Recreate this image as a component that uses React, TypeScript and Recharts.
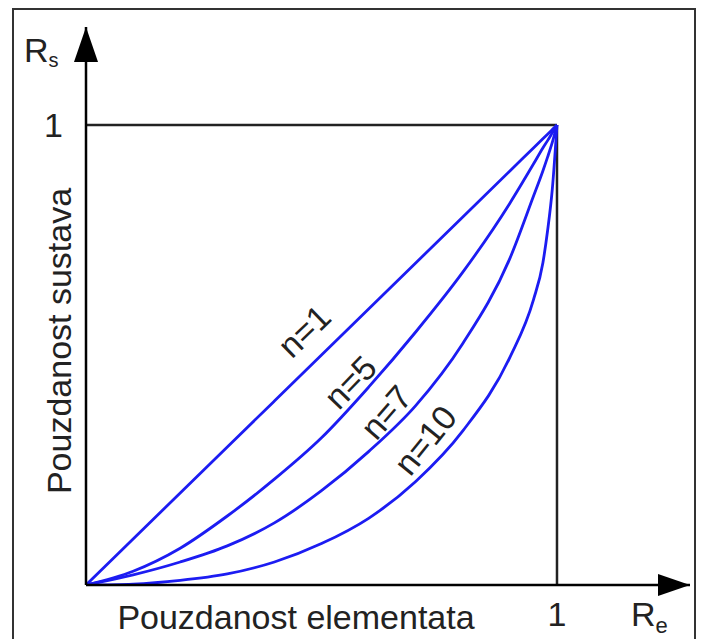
import {
  LineChart,
  Line,
  XAxis,
  YAxis,
  ReferenceLine,
  ReferenceDot,
  Label,
} from "recharts";

// element reliability (x) and system reliability for each n
const RE = [0, 0.1, 0.2, 0.3, 0.4, 0.5, 0.6, 0.7, 0.8, 0.9, 0.95, 0.97, 0.98, 0.99, 1];
const N1 = [0, 0.1, 0.2, 0.3, 0.4, 0.5, 0.6, 0.7, 0.8, 0.9, 0.95, 0.97, 0.98, 0.99, 1];
const N5 = [0, 0.03, 0.08, 0.15, 0.23, 0.32, 0.43, 0.55, 0.68, 0.83, 0.915, 0.95, 0.966, 0.983, 1];
const N7 = [0, 0.022, 0.05, 0.085, 0.135, 0.205, 0.29, 0.39, 0.525, 0.71, 0.845, 0.9, 0.93, 0.962, 1];
const N10 = [0, 0.002, 0.01, 0.024, 0.05, 0.09, 0.145, 0.225, 0.335, 0.495, 0.62, 0.7, 0.77, 0.86, 1];

const SERIES = [
  { key: "n1", values: N1 },
  { key: "n5", values: N5 },
  { key: "n7", values: N7 },
  { key: "n10", values: N10 },
];

const CURVE_LABELS = [
  { text: "n=1", x: 0.463, y: 0.552, angle: -44 },
  { text: "n=5", x: 0.561, y: 0.441, angle: -46 },
  { text: "n=7", x: 0.637, y: 0.376, angle: -49 },
  { text: "n=10", x: 0.72, y: 0.315, angle: -51 },
];

const X_MAX = 1.2824;
const Y_MAX = 1.213;

const FONT = "'Liberation Sans', Arial, sans-serif";
const INK = "#222";
const BLUE = "#1c1cf2";
const FS = 34;

const data = RE.map((re, i) => {
  const row: Record<string, number> = { re };
  SERIES.forEach((s) => (row[s.key] = s.values[i]));
  return row;
});

export default function App() {
  return (
    <div
      style={{
        position: "absolute",
        left: 0,
        top: 0,
        width: 701,
        height: 639,
        background: "#fff",
        overflow: "hidden",
      }}
    >
      <div
        style={{
          position: "absolute",
          left: 12,
          top: 8,
          width: 684,
          height: 660,
          border: "2px solid #333",
          boxSizing: "border-box",
        }}
      />
      <LineChart
        width={701}
        height={639}
        data={data}
        margin={{ top: 27, right: 11, bottom: 0, left: 0 }}
        style={{ position: "absolute", left: 0, top: 0, fontFamily: FONT }}
      >
        <XAxis
          dataKey="re"
          type="number"
          domain={[0, X_MAX]}
          allowDataOverflow
          ticks={[1]}
          height={54}
          tickLine={false}
          tickMargin={11}
          axisLine={{ stroke: "#000", strokeWidth: 2.5 }}
          tick={{ fontSize: FS, fill: INK, fontFamily: FONT }}
        >
          <Label
            content={() => (
              <g fontFamily={FONT} fill={INK}>
                <text x={296} y={629} fontSize={FS} textAnchor="middle">
                  Pouzdanost elementata
                </text>
                <text x={631} y={626} fontSize={FS}>
                  R
                  <tspan fontSize={22} dy={7}>
                    e
                  </tspan>
                </text>
              </g>
            )}
          />
        </XAxis>
        <YAxis
          type="number"
          domain={[0, Y_MAX]}
          allowDataOverflow
          ticks={[1]}
          width={86}
          tickLine={false}
          tickMargin={17}
          axisLine={{ stroke: "#000", strokeWidth: 2.5 }}
          tick={{ fontSize: FS, fill: INK, fontFamily: FONT }}
        >
          <Label
            content={() => (
              <g fontFamily={FONT} fill={INK}>
                <text x={24} y={62} fontSize={FS}>
                  R
                  <tspan fontSize={20} dy={5}>
                    s
                  </tspan>
                </text>
                <text
                  x={71}
                  y={341}
                  fontSize={FS}
                  textAnchor="middle"
                  transform="rotate(-90 71 341)"
                >
                  Pouzdanost sustava
                </text>
              </g>
            )}
          />
        </YAxis>

        <ReferenceLine
          segment={[
            { x: 0, y: 1 },
            { x: 1, y: 1 },
          ]}
          stroke={INK}
          strokeWidth={2.5}
        />
        <ReferenceLine
          segment={[
            { x: 1, y: 0 },
            { x: 1, y: 1 },
          ]}
          stroke={INK}
          strokeWidth={2.5}
        />

        {SERIES.map((s) => (
          <Line
            key={s.key}
            dataKey={s.key}
            type="monotone"
            stroke={BLUE}
            strokeWidth={2.8}
            dot={false}
            activeDot={false}
            isAnimationActive={false}
          />
        ))}

        <ReferenceDot
          x={X_MAX}
          y={0}
          r={0}
          ifOverflow="visible"
          shape={(p: any) => (
            <polygon
              points={`${p.cx},${p.cy} ${p.cx - 32},${p.cy - 11} ${p.cx - 32},${p.cy + 11}`}
              fill="#000"
            />
          )}
        />
        <ReferenceDot
          x={0}
          y={Y_MAX}
          r={0}
          ifOverflow="visible"
          shape={(p: any) => (
            <polygon
              points={`${p.cx},${p.cy} ${p.cx - 12},${p.cy + 35} ${p.cx + 12},${p.cy + 35}`}
              fill="#000"
            />
          )}
        />

        {CURVE_LABELS.map((l) => (
          <ReferenceDot
            key={l.text}
            x={l.x}
            y={l.y}
            r={0}
            ifOverflow="visible"
            shape={(p: any) => (
              <text
                x={p.cx}
                y={p.cy}
                fontSize={FS}
                fontFamily={FONT}
                fill={INK}
                textAnchor="middle"
                dominantBaseline="central"
                transform={`rotate(${l.angle} ${p.cx} ${p.cy})`}
              >
                {l.text}
              </text>
            )}
          />
        ))}
      </LineChart>
    </div>
  );
}
